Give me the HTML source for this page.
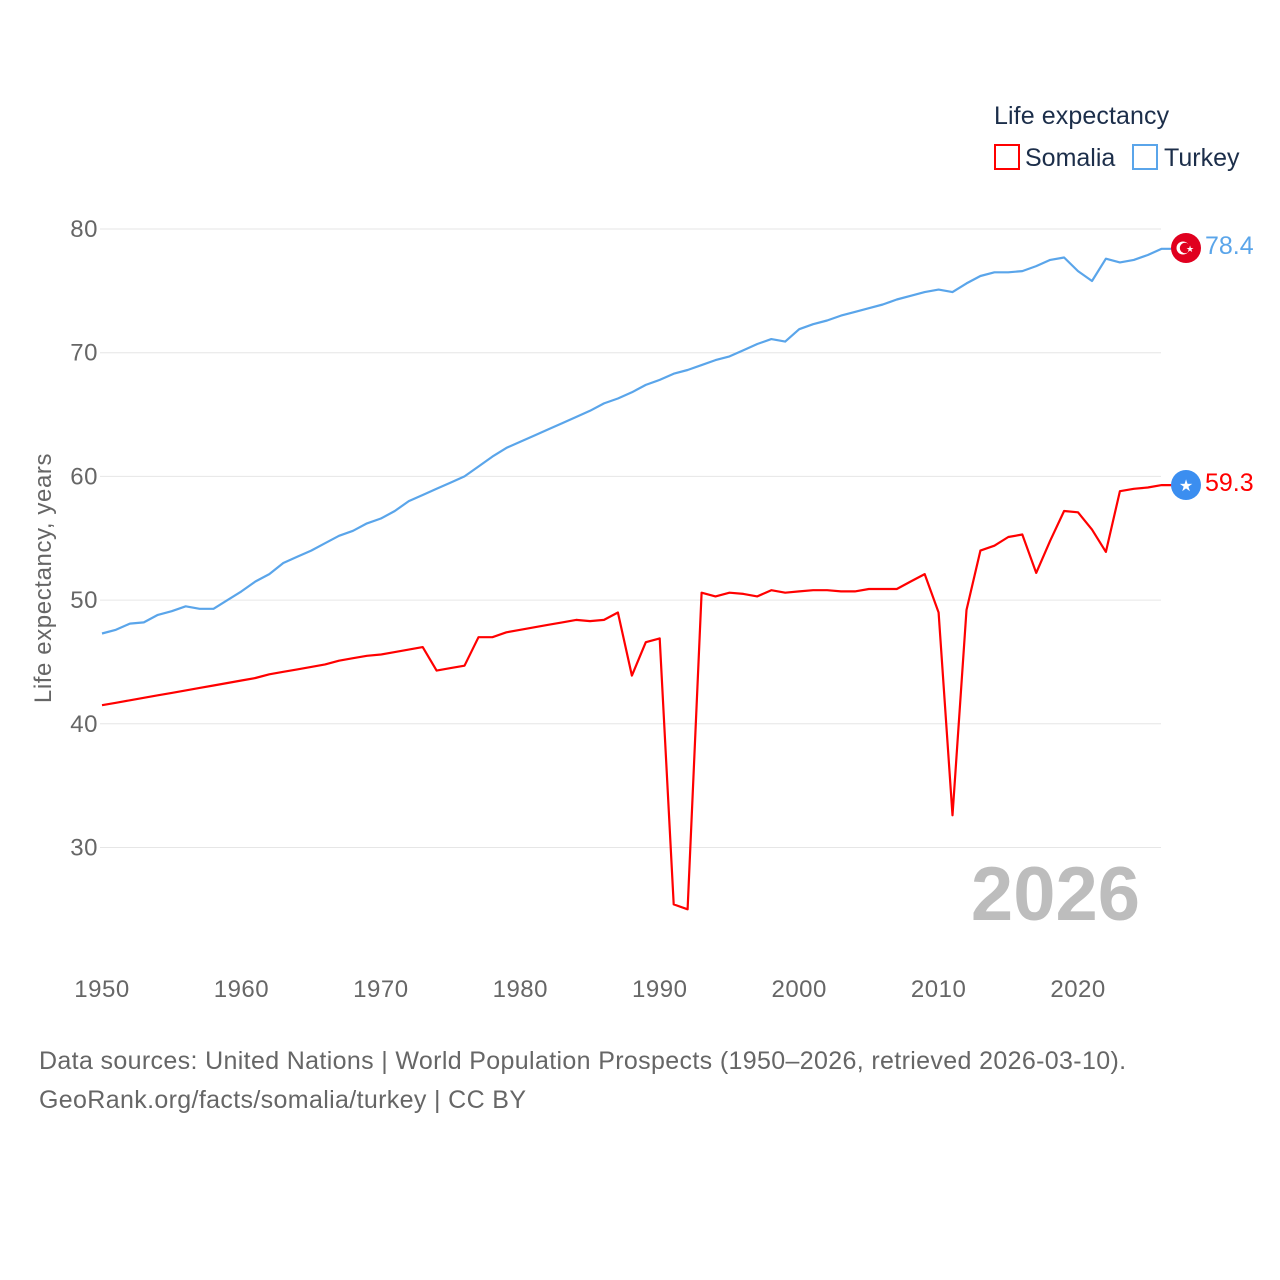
<!DOCTYPE html>
<html><head><meta charset="utf-8">
<style>
html,body{margin:0;padding:0;background:#fff;}
body{width:1280px;height:1280px;position:relative;font-family:"Liberation Sans",sans-serif;overflow:hidden;}
svg{position:absolute;left:0;top:0;}
</style></head>
<body>
<svg id="chart" width="1280" height="1280" xmlns="http://www.w3.org/2000/svg">
  <g id="grid"></g>
  <g id="yticks"></g>
  <g id="xticks"></g>
  <text transform="translate(51,578) rotate(-90)" text-anchor="middle" font-size="24" letter-spacing="0.6" fill="#666">Life expectancy, years</text>
  <text x="1140" y="920" text-anchor="end" font-size="76" font-weight="bold" fill="#bdbdbd">2026</text>
  <g id="series"></g>
  <g>
    <text x="994" y="124" font-size="25" letter-spacing="0.1" fill="#1c2e4a">Life expectancy</text>
    <g>
      <rect x="995" y="145" width="24" height="24" fill="none" stroke="#f00" stroke-width="2"/>
      <text x="1025" y="166" font-size="25" fill="#1c2e4a">Somalia</text>
    </g>
    <g>
      <rect x="1133" y="145" width="24" height="24" fill="none" stroke="#5aa5ea" stroke-width="2"/>
      <text x="1164" y="166" font-size="25" fill="#1c2e4a">Turkey</text>
    </g>
  </g>
  <g>
    <circle cx="1186" cy="248" r="15" fill="#e0001f"/>
    <circle cx="1183" cy="248" r="6.5" fill="#fff"/>
    <circle cx="1185" cy="248" r="5.2" fill="#e0001f"/>
    <text x="1190" y="252" font-size="9" fill="#fff" text-anchor="middle">★</text>
  </g>
  <g>
    <circle cx="1186" cy="485" r="15" fill="#3b8ef0"/>
    <text x="1186" y="491" font-size="16" fill="#fff" text-anchor="middle">★</text>
  </g>
  <text x="1205" y="254" font-size="25" fill="#5aa5ea">78.4</text>
  <text x="1205" y="491" font-size="25" fill="#f00">59.3</text>
  <text x="39" y="1069" font-size="25" letter-spacing="0.35" fill="#666">Data sources: United Nations | World Population Prospects (1950–2026, retrieved 2026-03-10).</text>
  <text x="39" y="1108" font-size="25" letter-spacing="0.35" fill="#666">GeoRank.org/facts/somalia/turkey | CC BY</text>
</svg>
<script>
const yTicks = [30, 40, 50, 60, 70, 80];
const xTicks = [1950, 1960, 1970, 1980, 1990, 2000, 2010, 2020];
const startYear = 1950;
const turkey = [47.3,47.6,48.1,48.2,48.8,49.1,49.5,49.3,49.3,50.0,50.7,51.5,52.1,53.0,53.5,54.0,54.6,55.2,55.6,56.2,56.6,57.2,58.0,58.5,59.0,59.5,60.0,60.8,61.6,62.3,62.8,63.3,63.8,64.3,64.8,65.3,65.9,66.3,66.8,67.4,67.8,68.3,68.6,69.0,69.4,69.7,70.2,70.7,71.1,70.9,71.9,72.3,72.6,73.0,73.3,73.6,73.9,74.3,74.6,74.9,75.1,74.9,75.6,76.2,76.5,76.5,76.6,77.0,77.5,77.7,76.6,75.8,77.6,77.3,77.5,77.9,78.4];
const somalia = [41.5,41.7,41.9,42.1,42.3,42.5,42.7,42.9,43.1,43.3,43.5,43.7,44.0,44.2,44.4,44.6,44.8,45.1,45.3,45.5,45.6,45.8,46.0,46.2,44.3,44.5,44.7,47.0,47.0,47.4,47.6,47.8,48.0,48.2,48.4,48.3,48.4,49.0,43.9,46.6,46.9,25.4,25.0,50.6,50.3,50.6,50.5,50.3,50.8,50.6,50.7,50.8,50.8,50.7,50.7,50.9,50.9,50.9,51.5,52.1,49.0,32.6,49.2,54.0,54.4,55.1,55.3,52.2,54.8,57.2,57.1,55.7,53.9,58.8,59.0,59.1,59.3];

const NS = "http://www.w3.org/2000/svg";
function xs(year){ return 102 + (year - 1950) * (1161.7 - 102) / 76; }
function ys(v){ return 229 + (80 - v) * 12.37; }

const grid = document.getElementById('grid');
const yt = document.getElementById('yticks');
yTicks.forEach(v => {
  const l = document.createElementNS(NS, 'line');
  
  
  l.setAttribute('x1', 100); l.setAttribute('x2', 1161);
  l.setAttribute('y1', ys(v)); l.setAttribute('y2', ys(v));
  l.setAttribute('stroke', '#e6e6e6'); l.setAttribute('stroke-width', 1);
  grid.appendChild(l);
  const t = document.createElementNS(NS, 'text');
  
  
  t.setAttribute('x', 98); t.setAttribute('y', ys(v) + 8);
  t.setAttribute('text-anchor', 'end'); t.setAttribute('font-size', 24); t.setAttribute('letter-spacing', 0.5); t.setAttribute('fill', '#666');
  t.textContent = v;
  yt.appendChild(t);
});
const xt = document.getElementById('xticks');
xTicks.forEach(v => {
  const t = document.createElementNS(NS, 'text');
  
  
  t.setAttribute('x', xs(v)); t.setAttribute('y', 997);
  t.setAttribute('text-anchor', 'middle'); t.setAttribute('font-size', 24); t.setAttribute('letter-spacing', 0.5); t.setAttribute('fill', '#666');
  t.textContent = v;
  xt.appendChild(t);
});
const ser = document.getElementById('series');
function drawLine(vals, color, name){
  const p = document.createElementNS(NS, 'path');
  
  
  const last = vals[vals.length - 1];
  p.setAttribute('d', vals.map((v,i)=>(i?'L':'M')+xs(startYear+i).toFixed(1)+','+ys(v).toFixed(1)).join(' ') + ' L1172,' + ys(last).toFixed(1));
  p.setAttribute('fill', 'none'); p.setAttribute('stroke', color);
  p.setAttribute('stroke-width', 2.2); p.setAttribute('stroke-linejoin', 'round');
  ser.appendChild(p);
}
drawLine(turkey, '#5aa5ea', 'turkey-line');
drawLine(somalia, '#ff0000', 'somalia-line');
</script>
</body></html>
